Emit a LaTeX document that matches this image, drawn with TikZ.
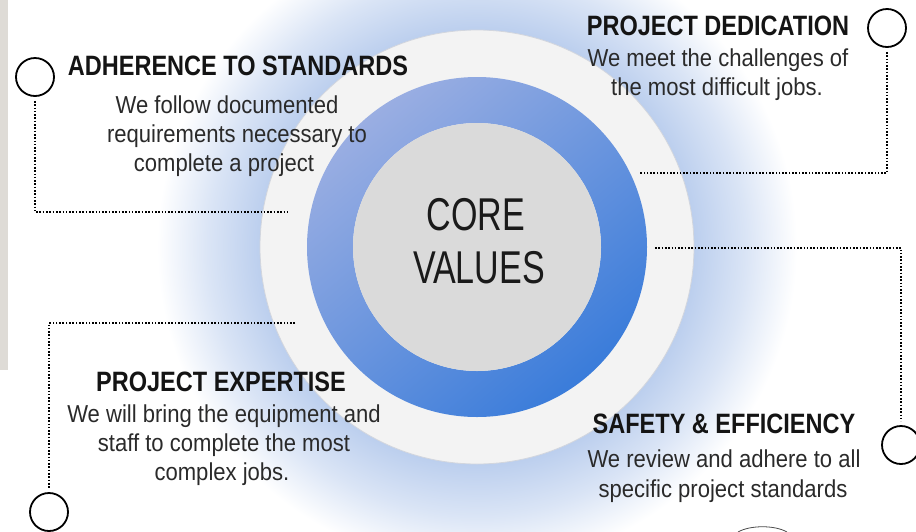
\documentclass[tikz,border=0pt]{standalone}
\usepackage{fontspec}
\setmainfont{Liberation Sans}
\newfontfamily\headfont[FakeStretch=0.84]{Liberation Sans}
\newfontfamily\bodyfont[FakeStretch=0.9]{Liberation Sans}
\newfontfamily\corefont[FakeStretch=0.74]{Liberation Sans}
\definecolor{glowc}{HTML}{BCCFEE}
\colorlet{glowmid}{glowc!55!white}
\definecolor{ringwhite}{HTML}{F3F3F3}
\definecolor{ringedge}{HTML}{D2D6DE}
\definecolor{bluetop}{HTML}{9AAEE2}
\definecolor{bluebot}{HTML}{3A7CDA}
\definecolor{coregray}{HTML}{DADADA}
\definecolor{stripgray}{HTML}{DEDBD6}
\definecolor{headc}{HTML}{141414}
\definecolor{bodyc}{HTML}{2A2A2A}
\definecolor{corec}{HTML}{1A1A1A}
\pgfdeclareradialshading{glowshade}{\pgfpoint{0bp}{0bp}}{color(0bp)=(glowc); color(17bp)=(glowc); color(21bp)=(glowmid); color(25bp)=(white); color(50bp)=(white)}
\tikzset{
  headtxt/.style={font=\headfont\bfseries\fontsize{28}{30}\selectfont, text=headc, inner sep=0pt, anchor=base},
  bodytxt/.style={font=\bodyfont\fontsize{24.5}{29}\selectfont, text=bodyc, inner sep=0pt, anchor=base},
  coretxt/.style={font=\corefont\fontsize{46}{53}\selectfont, text=corec, inner sep=0pt, anchor=base},
  marker/.style={circle, draw=black, line width=1.8pt, minimum size=38pt, inner sep=0pt},
  dots/.style={draw=black, line width=1.7pt, dash pattern=on 1.6pt off 1.7pt}
}
\begin{document}
\begin{tikzpicture}[x=1pt,y=-1pt]
\useasboundingbox (0,0) rectangle (916,531);
\clip (0,0) rectangle (916,531);
\fill[white] (0,0) rectangle (916,531);
\coordinate (c) at (477,247);
% glow
\shade[shading=glowshade] (c) circle (320pt);
% white ring
\fill[ringwhite] (c) circle (217pt);
\draw[ringedge, line width=0.8pt] (c) circle (217pt);
% blue ring
\shade[top color=bluetop, bottom color=bluebot, shading angle=40, even odd rule]
  (c) circle (170pt) (c) circle (124pt);
% core
\fill[coregray] (c) circle (124pt);
% grey strip
\fill[stripgray] (0,0) rectangle (8,370);
% core text
\node[coretxt] (core1) at (476,230) {CORE};
\node[coretxt] (core2) at (479,283) {VALUES};
% markers
\node[marker] (m1) at (35,77) {};
\node[marker] (m2) at (887,28) {};
\node[marker] (m3) at (901,445) {};
\node[marker] (m4) at (49,512) {};
\coordinate (e1) at (287,212);
\coordinate (e2) at (640,173);
\coordinate (e3) at (655,248);
\coordinate (e4) at (295,323);
\draw[dots] ([yshift=-4pt]m1.south) |- (e1);
\draw[dots] ([yshift=-4pt]m2.south) |- (e2);
\draw[dots] (e3) -| ([yshift=4pt]m3.north);
\draw[dots] (e4) -| ([yshift=4pt]m4.north);
% texts top-left
\node[headtxt] (h1) at (238,75) {ADHERENCE TO STANDARDS};
\node[bodytxt] (b11) at (227,113) {We follow documented};
\node[bodytxt] (b12) at (237,142) {requirements necessary to};
\node[bodytxt] (b13) at (224,171) {complete a project};
% top-right
\node[headtxt] (h2) at (718,35) {PROJECT DEDICATION};
\node[bodytxt] (b21) at (718,66) {We meet the challenges of};
\node[bodytxt] (b22) at (717,95) {the most difficult jobs.};
% bottom-right
\node[headtxt] (h3) at (724,433) {SAFETY \& EFFICIENCY};
\node[bodytxt] (b31) at (724,467) {We review and adhere to all};
\node[bodytxt] (b32) at (723,497) {specific project standards};
% bottom-left
\node[headtxt] (h4) at (221,391) {PROJECT EXPERTISE};
\node[bodytxt] (b41) at (224,422) {We will bring the equipment and};
\node[bodytxt] (b42) at (224,451) {staff to complete the most};
\node[bodytxt] (b43) at (222,480) {complex jobs.};
% bottom arc fragment
\draw[black!70, line width=0.8pt] (738,532) .. controls (750,525) and (775,525) .. (787,532);
\end{tikzpicture}
\end{document}
